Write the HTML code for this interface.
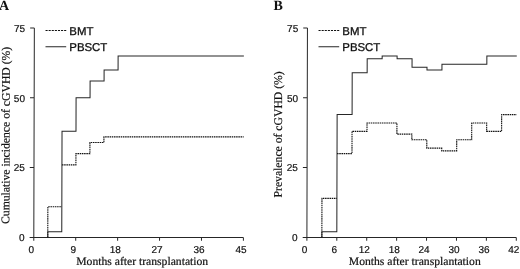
<!DOCTYPE html>
<html><head><meta charset="utf-8"><title>cGVHD</title>
<style>
html,body{margin:0;padding:0;background:#fff;}
svg{display:block}
.s{font-family:"Liberation Serif","Times New Roman",serif;font-size:11.65px;fill:#111;stroke:#111;stroke-width:0.2px}
.yl{font-size:11.7px}
.a{font-family:"Liberation Sans",Arial,sans-serif;font-size:10px;fill:#111;stroke:#111;stroke-width:0.2px}
.l{font-family:"Liberation Sans",Arial,sans-serif;font-size:11.4px;fill:#111;stroke:#111;stroke-width:0.3px}
.b{font-family:"Liberation Serif","Times New Roman",serif;font-size:14px;font-weight:bold;fill:#111}
.ln{fill:none;stroke:#262626;stroke-width:1.02}
.ds{fill:none;stroke:#111;stroke-width:1.1;stroke-dasharray:1.55 0.67}
.dl{fill:none;stroke:#111;stroke-width:1.0;stroke-dasharray:2.1 1}
.ax{fill:none;stroke:#262626;stroke-width:1}
</style></head><body>
<svg width="520" height="269" viewBox="0 0 520 269">
<rect width="520" height="269" fill="#fff"/>
<g transform="matrix(1 0 -0.0026 1 0.617 0)">
<path class="ax" d="M33.8 28.08V237.4H243.4M29.6 237.4H33.8M29.6 167.62H33.8M29.6 97.85H33.8M29.6 28.08H33.8M33.8 237.4v3.4M75.72 237.4v3.4M117.64 237.4v3.4M159.56 237.4v3.4M201.48 237.4v3.4M243.4 237.4v3.4"/>
<text class="a" x="24.6" y="241.1" text-anchor="end">0</text>
<text class="a" x="24.6" y="171.32" text-anchor="end">25</text>
<text class="a" x="24.6" y="101.55" text-anchor="end">50</text>
<text class="a" x="24.6" y="31.78" text-anchor="end">75</text>
<text class="a" x="31.4" y="252.7" text-anchor="middle">0</text>
<text class="a" x="73.32" y="252.7" text-anchor="middle">9</text>
<text class="a" x="115.24" y="252.7" text-anchor="middle">18</text>
<text class="a" x="157.16" y="252.7" text-anchor="middle">27</text>
<text class="a" x="199.08" y="252.7" text-anchor="middle">36</text>
<text class="a" x="241.0" y="252.7" text-anchor="middle">45</text>
<path class="ds" d="M47.77 237.4V206.7H61.75M61.75 164.83H75.72V153.67H89.69V142.51H103.67V136.92H243.4"/>
<path class="ln" d="M47.77 237.4V231.82H61.75V131.34H75.72V97.85H89.69V81.1H103.67V69.94H117.64V55.99H243.4"/>
<text class="s" x="142.3" y="265.1" text-anchor="middle">Months after transplantation</text>
<text class="s yl" transform="translate(9.3 135.4) rotate(-90)" text-anchor="middle">Cumulative incidence of cGVHD (%)</text>
<text class="b" x="-1.6" y="10.0">A</text>
<path class="dl" d="M45.0 30.4h20.9"/>
<path class="ln" d="M45.0 46.7h20.7"/>
<text class="l" x="68.85" y="35.0">BMT</text>
<text class="l" x="68.85" y="50.9">PBSCT</text>
<path class="ax" d="M306.9 28.08V237.4H516.3M302.7 237.4H306.9M302.7 167.62H306.9M302.7 97.85H306.9M302.7 28.08H306.9M306.9 237.4v3.4M336.81 237.4v3.4M366.73 237.4v3.4M396.64 237.4v3.4M426.56 237.4v3.4M456.47 237.4v3.4M486.39 237.4v3.4M516.3 237.4v3.4"/>
<text class="a" x="297.7" y="241.1" text-anchor="end">0</text>
<text class="a" x="297.7" y="171.32" text-anchor="end">25</text>
<text class="a" x="297.7" y="101.55" text-anchor="end">50</text>
<text class="a" x="297.7" y="31.78" text-anchor="end">75</text>
<text class="a" x="304.5" y="252.7" text-anchor="middle">0</text>
<text class="a" x="334.41" y="252.7" text-anchor="middle">6</text>
<text class="a" x="364.33" y="252.7" text-anchor="middle">12</text>
<text class="a" x="394.24" y="252.7" text-anchor="middle">18</text>
<text class="a" x="424.16" y="252.7" text-anchor="middle">24</text>
<text class="a" x="454.07" y="252.7" text-anchor="middle">30</text>
<text class="a" x="483.99" y="252.7" text-anchor="middle">36</text>
<text class="a" x="513.9" y="252.7" text-anchor="middle">42</text>
<path class="ds" d="M321.86 237.4V198.33H336.81M336.81 153.67H351.77V131.34H366.73V122.97H396.64V134.13H411.6V139.72H426.56V148.09H441.51V150.88H456.47V139.72H471.43V122.97H486.39V131.34H501.34V114.6H516.3"/>
<path class="ln" d="M321.86 237.4V231.82H336.81V114.6H351.77V72.73H366.73V58.78H381.69V55.99H396.64V58.78H411.6V67.15H426.56V69.94H441.51V64.36H486.39V55.99H516.3"/>
<text class="s" x="414.85" y="265.1" text-anchor="middle">Months after transplantation</text>
<text class="s yl" transform="translate(281.6 134.4) rotate(-90)" text-anchor="middle">Prevalence of cGVHD (%)</text>
<text class="b" x="273.0" y="10.0">B</text>
<path class="dl" d="M318.0 30.4h20.9"/>
<path class="ln" d="M318.0 46.7h20.7"/>
<text class="l" x="341.85" y="35.0">BMT</text>
<text class="l" x="341.85" y="50.9">PBSCT</text>
</g></svg></body></html>
